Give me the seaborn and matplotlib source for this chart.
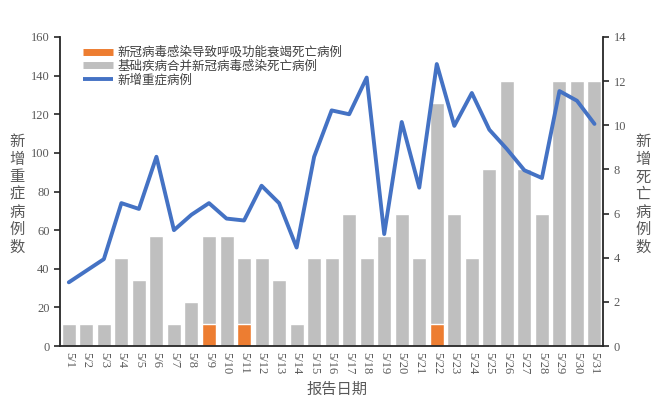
import numpy as np
import pandas as pd
import seaborn as sns
import matplotlib.pyplot as plt
from matplotlib.lines import Line2D

sns.set_style("white")
plt.rcParams['font.family'] = ['Liberation Serif', 'Noto Sans CJK SC', 'DejaVu Sans']

#%% Data
dates = ["5/1", "5/2", "5/3", "5/4", "5/5", "5/6", "5/7", "5/8", "5/9", "5/10",
         "5/11", "5/12", "5/13", "5/14", "5/15", "5/16", "5/17", "5/18", "5/19", "5/20",
         "5/21", "5/22", "5/23", "5/24", "5/25", "5/26", "5/27", "5/28", "5/29", "5/30", "5/31"]
# deaths: respiratory failure from covid (orange) / underlying disease + covid (gray)
resp_deaths = [0, 0, 0, 0, 0, 0, 0, 0, 1, 0, 1, 0, 0, 0, 0, 0,
               0, 0, 0, 0, 0, 1, 0, 0, 0, 0, 0, 0, 0, 0, 0]
other_deaths = [1, 1, 1, 4, 3, 5, 1, 2, 4, 5, 3, 4, 3, 1, 4, 4,
                6, 4, 5, 6, 4, 10, 6, 4, 8, 12, 8, 6, 12, 12, 12]
severe = [33, 39, 45, 74, 71, 98, 60, 68, 74, 66, 65, 83, 74, 51, 98, 122,
          120, 139, 58, 116, 82, 146, 114, 131, 112, 102, 91, 87, 132, 127, 115]

df = pd.DataFrame({"date": dates, "resp": resp_deaths, "other": other_deaths, "severe": severe})
df["total"] = df["resp"] + df["other"]

c_orange = "#ED7D31"
c_gray = "#BFBFBF"
c_blue = "#4472C4"
txt = "#595959"

#%% Plot
fig = plt.figure(figsize=(6.6, 4.11), dpi=100)
ax = fig.add_axes([0.091, 0.158, 0.823, 0.752])
ax2 = ax.twinx()

# bars (right axis), stacked: gray total, orange at the bottom
sns.barplot(data=df, x="date", y="total", color=c_gray, saturation=1, width=0.8, ax=ax2)
sns.barplot(data=df, x="date", y="resp", color=c_orange, saturation=1, width=0.8, ax=ax2)

# line (left axis), drawn above bars
sns.lineplot(data=df, x="date", y="severe", color=c_blue, lw=2.8, ax=ax, sort=False)
ax.set_zorder(ax2.get_zorder() + 1)
ax.patch.set_visible(False)

n = len(dates)
ax.set_xlim(-0.5, n - 0.5)
ax.set_ylim(0, 160)
ax.set_yticks(np.arange(0, 161, 20))
ax2.set_ylim(0, 14)
ax2.set_yticks(np.arange(0, 15, 2))

ax.set_xticks(np.arange(n))
ax.set_xticklabels(dates, rotation=-90, fontsize=9, color=txt)
ax.set_xticks(np.arange(n + 1) - 0.5, minor=True)
ax.tick_params(axis='x', which='major', length=0, pad=4)
ax.tick_params(axis='x', which='minor', length=4.5, width=1.2, color='#262626', direction='out')
ax.tick_params(axis='y', length=4, width=1.2, color='#262626', labelsize=9, labelcolor=txt, left=True)
ax2.tick_params(axis='y', length=4, width=1.2, color='#262626', labelsize=9, labelcolor=txt, right=True)

for s in ["top", "right"]:
    ax.spines[s].set_visible(False)
for s in ["top", "left", "bottom"]:
    ax2.spines[s].set_visible(False)
for sp in [ax.spines["left"], ax.spines["bottom"], ax2.spines["right"]]:
    sp.set_color('#262626')
    sp.set_linewidth(1.3)

ax.set_xlabel("")
ax.set_ylabel("")
ax2.set_ylabel("")
ax2.set_xlabel("")

fig.text(0.026, 0.527, "\n".join("新增重症病例数"), ha='center', va='center',
         fontsize=11, color=txt, linespacing=1.05, family='Noto Sans CJK SC')
fig.text(0.974, 0.527, "\n".join("新增死亡病例数"), ha='center', va='center',
         fontsize=11, color=txt, linespacing=1.05, family='Noto Sans CJK SC')
fig.text(0.51, 0.052, "报告日期", ha='center', va='center', fontsize=11, color=txt,
         family='Noto Sans CJK SC')

handles = [Line2D([0], [0], color=c_orange, lw=5, solid_capstyle='butt'),
           Line2D([0], [0], color=c_gray, lw=5, solid_capstyle='butt'),
           Line2D([0], [0], color=c_blue, lw=2.8, solid_capstyle='butt')]
labels = ["新冠病毒感染导致呼吸功能衰竭死亡病例", "基础疾病合并新冠病毒感染死亡病例", "新增重症病例"]
ax.legend(handles, labels, loc='upper left', bbox_to_anchor=(0.118, 0.9), bbox_transform=fig.transFigure,
          frameon=False, prop={'family': 'Noto Sans CJK SC', 'size': 9}, labelcolor='#404040',
          handlelength=2.4, handletextpad=0.4, labelspacing=0.05, borderaxespad=0)

fig.savefig("out.png", dpi=100)
